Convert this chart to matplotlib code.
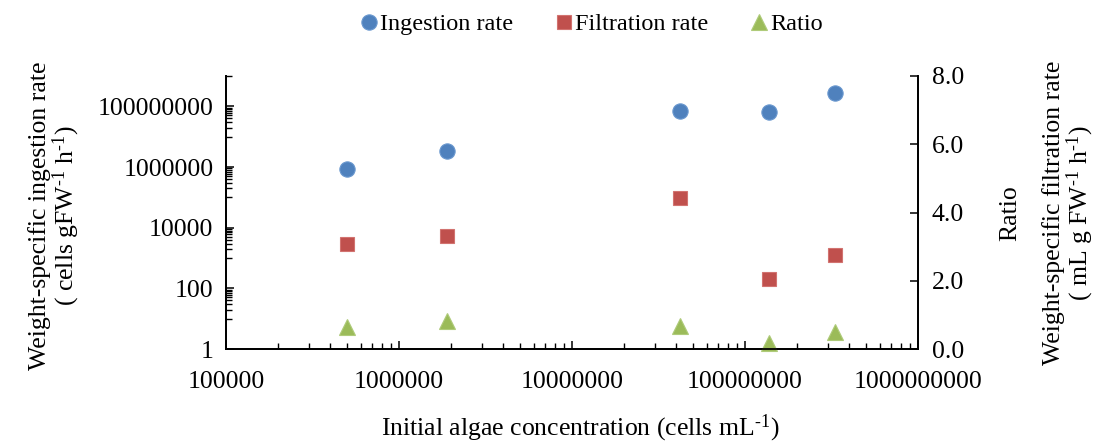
import matplotlib
matplotlib.use("Agg")
import matplotlib.pyplot as plt
from matplotlib.ticker import FixedLocator, LogLocator, NullFormatter, FormatStrFormatter, FuncFormatter

plt.rcParams['font.family'] = ['Liberation Serif', 'DejaVu Serif']
plt.rcParams['mathtext.fontset'] = 'custom'
plt.rcParams['mathtext.rm'] = 'Liberation Serif'
plt.rcParams['mathtext.default'] = 'regular'

# Data
concentration = [5.0e5, 1.9e6, 4.2e7, 1.38e8, 3.3e8]
ingestion_rate = [8.5e5, 3.3e6, 7.2e7, 6.3e7, 2.8e8]
filtration_rate = [3.08, 3.31, 4.43, 2.05, 2.76]
ratio = [0.65, 0.82, 0.67, 0.18, 0.50]

left_ticks = [1, 100, 10000, 1000000, 100000000]
right_ticks = [0.0, 2.0, 4.0, 6.0, 8.0]
x_ticks = [1e5, 1e6, 1e7, 1e8, 1e9]

blue = '#4F81BD'
red = '#C0504D'
green = '#9BBB59'
fs = 18.5
fs_leg = 17.5
sup = r'$^{\text{-}1}$'

fig = plt.figure(figsize=(10.96, 4.43), dpi=100)
ax = fig.add_axes([226/1096, 1-349/443, (918-226)/1096, (349-76)/443])
ax2 = ax.twinx()

h1, = ax.plot(concentration, ingestion_rate, 'o', color=blue, markersize=11,
              markeredgecolor='#6A98CF', markeredgewidth=0.8, linestyle='none', clip_on=False)
h2, = ax2.plot(concentration, filtration_rate, 's', color=red, markersize=10.5,
               markeredgecolor='#D27370', markeredgewidth=0.8, linestyle='none', clip_on=False)
h3, = ax2.plot(concentration, ratio, '^', color=green, markersize=11.5,
               markeredgecolor='#AFCB7A', markeredgewidth=0.8, linestyle='none', clip_on=False)

ax.set_xscale('log')
ax.set_yscale('log')
ax.set_xlim(1e5, 1e9)
ax.set_ylim(1, 1e9)
ax2.set_ylim(0, 8)

ax.set_xticks(x_ticks)
ax.xaxis.set_major_formatter(FuncFormatter(lambda v, p: '%d' % round(v)))
ax.xaxis.set_minor_locator(LogLocator(base=10, subs=range(2, 10), numticks=20))
ax.xaxis.set_minor_formatter(NullFormatter())

ax.set_yticks(left_ticks)
ax.yaxis.set_major_formatter(FuncFormatter(lambda v, p: '%d' % round(v)))
minor_y = []
for e in [0, 2, 4, 6, 8]:
    base = 10 ** e
    for k in range(1, 10):
        v = k * 10 * base
        if v <= 1e9:
            minor_y.append(v)
ax.yaxis.set_minor_locator(FixedLocator(minor_y))
ax.yaxis.set_minor_formatter(NullFormatter())

ax2.set_yticks(right_ticks)
ax2.yaxis.set_major_formatter(FormatStrFormatter('%.1f'))

for a in (ax, ax2):
    a.spines['top'].set_visible(False)
    for s in a.spines.values():
        s.set_linewidth(1.3)
ax.tick_params(axis='both', which='major', direction='in', length=6, width=1.1, labelsize=fs, pad=9)
ax.tick_params(axis='x', which='major', pad=16)
ax.tick_params(axis='both', which='minor', direction='in', length=4, width=1.0)
ax2.tick_params(axis='y', which='major', direction='in', length=6, width=1.1, labelsize=fs, pad=10)

fig.text(580/1096, 1-428/443, 'Initial algae concentration (cells mL' + sup + ')',
         ha='center', va='center', fontsize=fs)
fig.text(55/1096, 1-216/443, 'Weight-specific ingestion rate\n( cells gFW' + sup + ' h' + sup + ')',
         ha='center', va='center', rotation=90, fontsize=fs, multialignment='center', linespacing=1.0)
fig.text(1010/1096, 1-213/443, 'Ratio', ha='center', va='center', rotation=90, fontsize=fs)
fig.text(1069/1096, 1-213/443, 'Weight-specific filtration rate\n( mL g FW' + sup + ' h' + sup + ')',
         ha='center', va='center', rotation=90, fontsize=fs, multialignment='center', linespacing=1.0)

fig.legend([h1, h2, h3], ['Ingestion rate', 'Filtration rate', 'Ratio'],
           loc='center', bbox_to_anchor=(589/1096, 1-24/443), ncol=3, frameon=False,
           fontsize=fs_leg, handletextpad=-0.1, columnspacing=1.55, handlelength=1.1)

fig.savefig('out.png', dpi=100)
